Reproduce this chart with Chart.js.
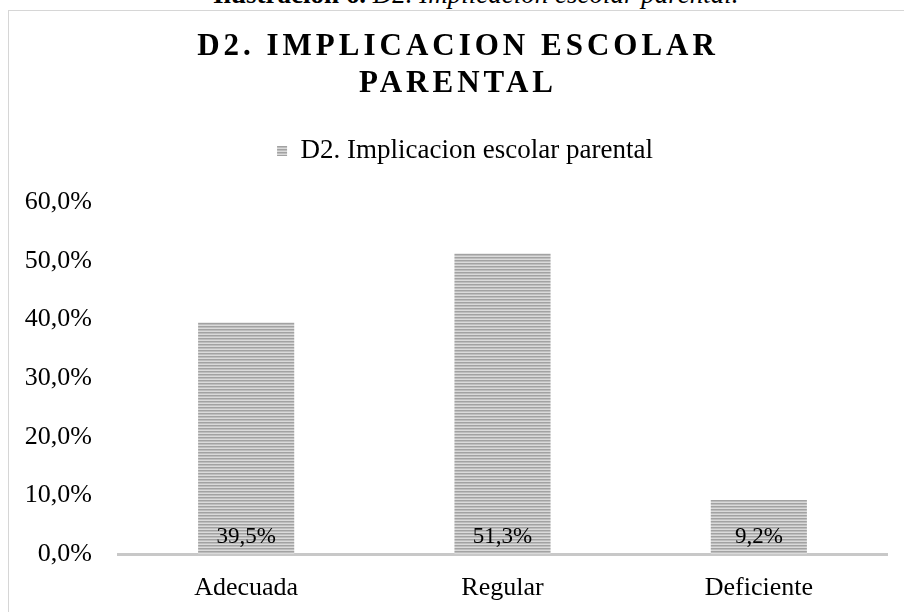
<!DOCTYPE html>
<html><head><meta charset="utf-8">
<script src="https://cdn.jsdelivr.net/npm/chart.js@4.4.0/dist/chart.umd.min.js"></script>
<style>
html,body{margin:0;padding:0;width:904px;height:612px;overflow:hidden;background:#fff;}
#cap{position:absolute;left:213px;top:-19px;font:27px/27px "Liberation Serif","Times New Roman",serif;white-space:nowrap;color:#000;z-index:2;}
#frame{position:absolute;left:8px;top:10px;width:960px;height:640px;border-left:1px solid #d6d6d6;border-top:1px solid #d6d6d6;}
#c{position:absolute;left:9px;top:11px;}
</style></head>
<body>
<div id="cap"><b>Ilustración 6.</b> <i>D2. Implicacion escolar parental.</i></div>
<div id="frame"></div>
<canvas id="c" width="895" height="601"></canvas>
<script>
const categories = ['Adecuada', 'Regular', 'Deficiente'];
const seriesName = 'D2. Implicacion escolar parental';
const values = [39.5, 51.3, 9.2];
const titleLines = ['D2. IMPLICACION ESCOLAR', 'PARENTAL'];
const yMax = 60, yStep = 10;

const fmt = v => v.toFixed(1).replace('.', ',') + '%';

function stripes() {
  const c = document.createElement('canvas'); c.width = 4; c.height = 3;
  const x = c.getContext('2d');
  ['#a2a2a2', '#bebebe', '#dadada'].forEach((col, i) => { x.fillStyle = col; x.fillRect(0, i, 4, 1); });
  return x.createPattern(c, 'repeat');
}
const pat = stripes();

const legendGap = { id: 'legendGap', beforeInit(chart) {
  const l = chart.legend; const o = l.fit;
  l.fit = function () { o.call(this); this.height += 28; };
}};
function shiftDraw(box, dx, spacing) {
  if (!box || box._sp) return;
  const o = box.draw;
  box.draw = function () {
    const c = this.ctx; c.save(); c.translate(dx, 0);
    if (spacing) c.letterSpacing = spacing;
    o.apply(this, arguments); c.restore();
  };
  box._sp = true;
}
const boxShift = { id: 'boxShift', beforeDraw(chart) {
  shiftDraw(chart.titleBlock, 10, '4px');
  shiftDraw(chart.legend, 17, null);
}};
const barLabels = { id: 'barLabels', afterDatasetsDraw(chart) {
  const ctx = chart.ctx, meta = chart.getDatasetMeta(0);
  ctx.save();
  ctx.font = '23px "Liberation Serif", "Times New Roman", serif';
  ctx.fillStyle = '#000'; ctx.textAlign = 'center'; ctx.textBaseline = 'alphabetic';
  meta.data.forEach((bar, i) => ctx.fillText(fmt(values[i]), bar.x, bar.base - 11));
  ctx.restore();
}};

Chart.defaults.font.family = '"Liberation Serif", "Times New Roman", serif';
Chart.defaults.color = '#000';

new Chart(document.getElementById('c'), {
  type: 'bar',
  data: { labels: categories, datasets: [{ label: seriesName, data: values, backgroundColor: pat, borderWidth: 0, barPercentage: 0.375, categoryPercentage: 1 }] },
  options: {
    responsive: false, animation: false,
    layout: { padding: { top: 0, right: 17, bottom: 0, left: 0 } },
    plugins: {
      tooltip: { enabled: false },
      title: { display: true, text: titleLines, font: { size: 31, weight: 'bold' }, lineHeight: 34 / 31, color: '#000', padding: { top: 17, bottom: 25 } },
      legend: { display: true, labels: { boxWidth: 10, boxHeight: 10, padding: 10, font: { size: 27 }, color: '#000' } }
    },
    scales: {
      x: { grid: { display: false }, border: { display: true, color: '#c8c8c8', width: 3 },
           ticks: { font: { size: 26 }, padding: 11, color: '#000' },
           afterFit(s) { s.height = 58; } },
      y: { min: 0, max: yMax, grid: { display: false }, border: { display: false },
           ticks: { stepSize: yStep, font: { size: 26 }, padding: 18, color: '#000', callback: v => fmt(v) },
           afterFit(s) { s.width = 109; } }
    }
  },
  plugins: [legendGap, boxShift, barLabels]
});
</script>
</body></html>
